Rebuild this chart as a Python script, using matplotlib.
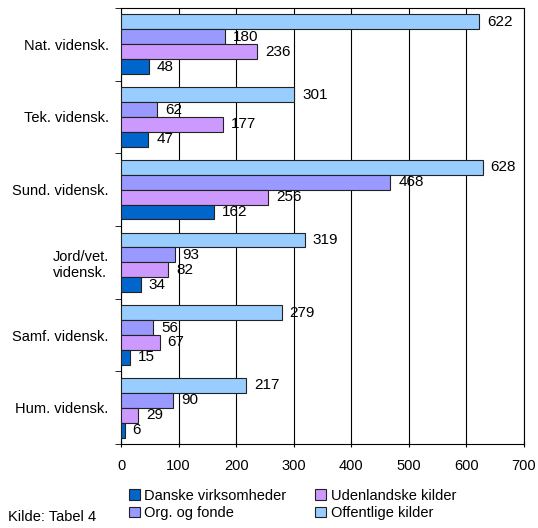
import numpy as np
import matplotlib.pyplot as plt

plt.rcParams['font.family'] = ['Liberation Sans', 'DejaVu Sans']

# kategorier, oppefra og ned
categories = ['Nat. vidensk.', 'Tek. vidensk.', 'Sund. vidensk.',
              'Jord/vet.\nvidensk.', 'Samf. vidensk.', 'Hum. vidensk.']
danske = [48, 47, 162, 34, 15, 6]
udenlandske = [236, 177, 256, 82, 67, 29]
org_fonde = [180, 62, 468, 93, 56, 90]
offentlige = [622, 301, 628, 319, 279, 217]

series = [
    ('Offentlige kilder', offentlige, '#99CCFF'),
    ('Org. og fonde', org_fonde, '#9999FF'),
    ('Udenlandske kilder', udenlandske, '#CC99FF'),
    ('Danske virksomheder', danske, '#0066CC'),
]

fs = 10.5

fig = plt.figure(figsize=(5.38, 5.28), dpi=100)
ax = fig.add_axes([0.225, 0.159, 0.749, 0.826])

n = len(categories)
y = np.arange(n)
h = 0.205
bars = {}
for i, (name, vals, col) in enumerate(series):
    pos = y - 1.5 * h + i * h
    b = ax.barh(pos, vals, height=h, color=col, edgecolor='#222222', linewidth=0.8, zorder=3)
    bars[name] = b
    for p, v in zip(pos, vals):
        ax.text(v + 14, p, str(v), va='center', ha='left', fontsize=11, zorder=4)

ax.set_xlim(0, 700)
ax.set_ylim(n - 0.5, -0.5)
ax.set_xticks(range(0, 701, 100))
ax.set_yticks(y)
ax.set_yticklabels(categories, fontsize=fs)
ax.set_yticks(np.arange(-0.5, n, 1), minor=True)
ax.tick_params(axis='y', which='major', length=0, pad=9)
ax.tick_params(axis='y', which='minor', length=4, direction='out', color='black')
ax.tick_params(axis='x', length=4, direction='inout', labelsize=fs, pad=9)
for lbl in ax.get_yticklabels():
    lbl.set_multialignment('center')
ax.grid(axis='x', color='black', linewidth=0.8, zorder=0)
for s in ax.spines.values():
    s.set_linewidth(0.8)
    s.set_color('black')

order = ['Danske virksomheder', 'Org. og fonde', 'Udenlandske kilder', 'Offentlige kilder']
fig.legend([bars[k] for k in order], order, ncol=2, loc='lower left',
           bbox_to_anchor=(0.215, -0.01), frameon=False, fontsize=fs,
           handlelength=0.75, handleheight=0.75, handletextpad=0.3,
           columnspacing=2.0, labelspacing=0.25)

fig.text(0.015, 0.014, 'Kilde: Tabel 4', fontsize=fs)

fig.savefig('out.png', dpi=100)
